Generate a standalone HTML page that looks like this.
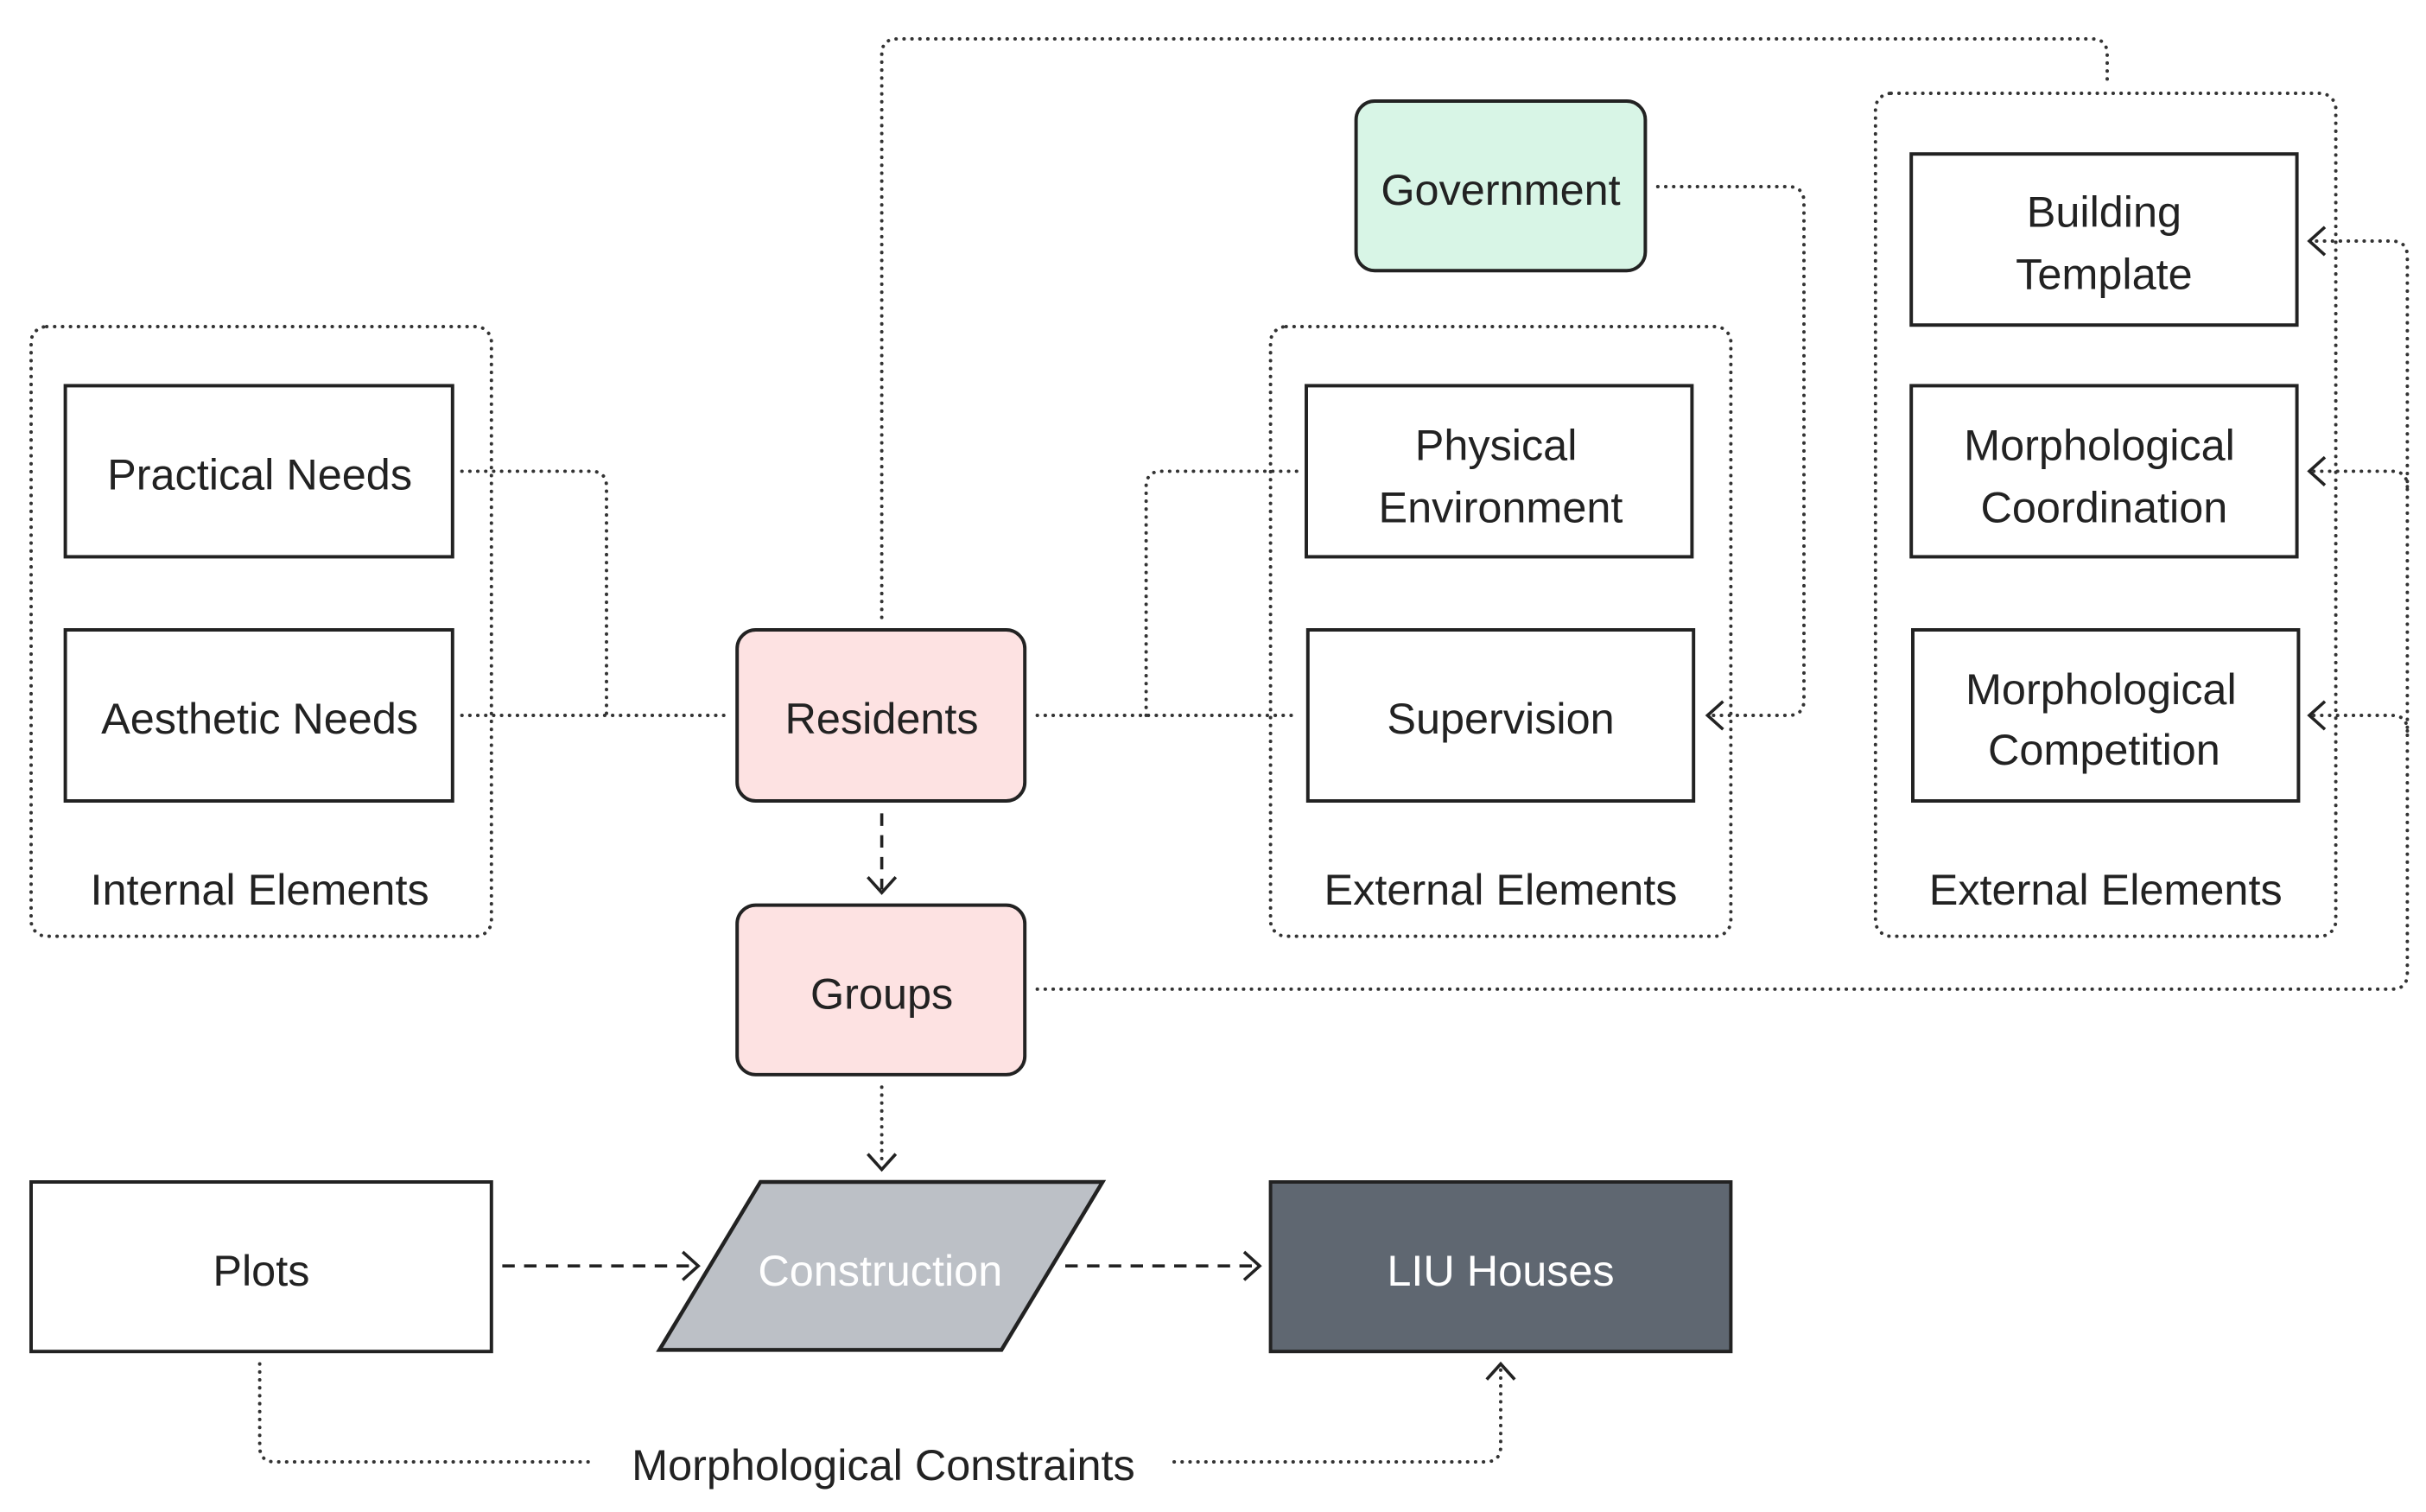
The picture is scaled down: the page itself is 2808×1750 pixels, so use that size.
<!DOCTYPE html>
<html><head><meta charset="utf-8"><style>
html,body{margin:0;padding:0;background:#fff;}
svg{display:block}
text{font-family:"Liberation Sans",sans-serif;font-size:28px;fill:#222;text-anchor:middle;dominant-baseline:central}
.b{fill:#fff;stroke:#222;stroke-width:2.2}
.d{fill:none;stroke:#333;stroke-width:2.2;stroke-dasharray:0.1 5;stroke-linecap:round}
.ds{fill:none;stroke:#222;stroke-width:2;stroke-dasharray:8 6}
.ar{fill:none;stroke:#222;stroke-width:2}
</style></head><body>
<svg width="2808" height="1750" viewBox="0 0 1560 972.2" xmlns="http://www.w3.org/2000/svg">
<rect class="d" x="20" y="210" width="296" height="392" rx="10"/>
<rect class="d" x="817" y="210" width="296" height="392" rx="10"/>
<rect class="d" x="1206" y="60" width="296" height="542" rx="10"/>
<path class="d" d="M297 303 H380 Q390 303 390 313 V460"/>
<path class="d" d="M297 460 H466"/>
<path class="d" d="M567 397 V35 Q567 25 577 25 H1345 Q1355 25 1355 35 V52"/>
<path class="d" d="M667 460 H835"/>
<path class="d" d="M737 460 V313 Q737 303 747 303 H835"/>
<path class="d" d="M1066 120 H1150 Q1160 120 1160 130 V450 Q1160 460 1150 460 H1100"/>
<path class="ar" d="M1108 451 L1098 460 L1108 469"/>
<path class="d" d="M667 636 H1538 Q1548 636 1548 626 V165 Q1548 155 1538 155 H1487"/>
<path class="d" d="M1548 313 Q1548 303 1538 303 H1487"/>
<path class="d" d="M1548 470 Q1548 460 1538 460 H1487"/>
<path class="ar" d="M1495 146 L1485 155 L1495 164 M1495 294 L1485 303 L1495 312 M1495 451 L1485 460 L1495 469"/>
<path class="ds" d="M567 523 V572"/>
<path class="ar" d="M558 564 L567 574 L576 564"/>
<path class="d" d="M567 699 V750"/>
<path class="ar" d="M558 742 L567 752 L576 742"/>
<path class="ds" d="M323 814 H447"/>
<path class="ar" d="M439 805 L449 814 L439 823"/>
<path class="ds" d="M685 814 H808"/>
<path class="ar" d="M800 805 L810 814 L800 823"/>
<path class="d" d="M167 877 V930 Q167 940 177 940 H383"/>
<path class="d" d="M755 940 H955 Q965 940 965 930 V880"/>
<path class="ar" d="M956 887 L965 877 L974 887"/>
<rect class="b" x="42" y="248" width="249" height="110"/>
<text x="167" y="305">Practical Needs</text>
<rect class="b" x="42" y="405" width="249" height="110"/>
<text x="167" y="462">Aesthetic Needs</text>
<text x="167" y="572">Internal Elements</text>
<rect x="474" y="405" width="185" height="110" rx="12" fill="#fde2e2" stroke="#222" stroke-width="2.2"/>
<text x="567" y="462">Residents</text>
<rect x="474" y="582" width="185" height="109" rx="12" fill="#fde2e2" stroke="#222" stroke-width="2.2"/>
<text x="567" y="639">Groups</text>
<rect x="872" y="65" width="186" height="109" rx="12" fill="#d8f5e6" stroke="#222" stroke-width="2.2"/>
<text x="965" y="122">Government</text>
<rect class="b" x="840" y="248" width="248" height="110"/>
<text x="962" y="286">Physical</text><text x="965" y="326">Environment</text>
<rect class="b" x="841" y="405" width="248" height="110"/>
<text x="965" y="462">Supervision</text>
<text x="965" y="572">External Elements</text>
<rect class="b" x="1229" y="99" width="248" height="110"/>
<text x="1353" y="136">Building</text><text x="1353" y="176">Template</text>
<rect class="b" x="1229" y="248" width="248" height="110"/>
<text x="1350" y="286">Morphological</text><text x="1353" y="326">Coordination</text>
<rect class="b" x="1230" y="405" width="248" height="110"/>
<text x="1351" y="443">Morphological</text><text x="1353" y="482">Competition</text>
<text x="1354" y="572">External Elements</text>
<rect class="b" x="20" y="760" width="296" height="109"/>
<text x="168" y="817">Plots</text>
<polygon points="424,868 489,760 709,760 644,868" fill="#bcc0c6" stroke="#222" stroke-width="2.5"/>
<text x="566" y="817" style="fill:#fff">Construction</text>
<rect x="817" y="760" width="296" height="109" fill="#5f6771" stroke="#222" stroke-width="2.2"/>
<text x="965" y="817" style="fill:#fff">LIU Houses</text>
<text x="568" y="942">Morphological Constraints</text>
</svg>
</body></html>
